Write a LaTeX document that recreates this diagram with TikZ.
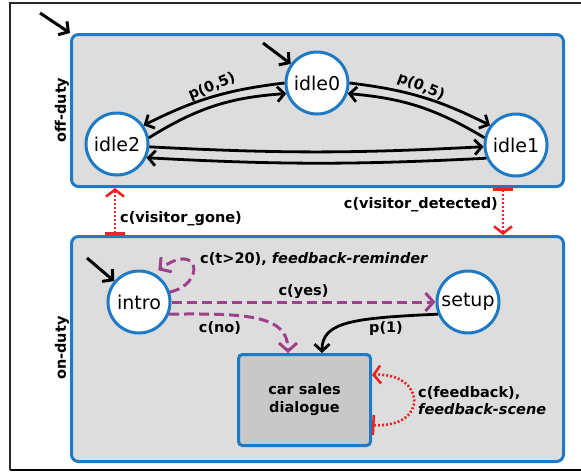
\documentclass[tikz,border=0pt]{standalone}
\usepackage{fontspec}
\setmainfont{DejaVu Sans}
\usetikzlibrary{arrows.meta}
\definecolor{stblue}{RGB}{30,122,196}
\definecolor{panelgrey}{RGB}{221,221,221}
\definecolor{dlggrey}{RGB}{200,200,200}
\definecolor{trpurple}{RGB}{158,64,140}
\definecolor{trred}{RGB}{230,38,38}
\definecolor{framegrey}{RGB}{40,40,40}
\definecolor{baseline}{RGB}{170,170,170}

\begin{document}
\begin{tikzpicture}[x=1pt,y=1pt,
  panel/.style={draw=stblue, line width=3pt, fill=panelgrey, rounded corners=7pt,
    inner sep=0pt, minimum width=492pt},
  stnode/.style={circle, draw=stblue, line width=3pt, fill=white, minimum size=62pt,
    inner sep=0pt, font=\fontsize{19}{21}\selectfont},
  subbox/.style={draw=stblue, line width=3pt, fill=dlggrey, rounded corners=4pt,
    minimum width=132pt, minimum height=91pt, inner sep=0pt, align=center,
    font=\fontsize{14.5}{18}\selectfont\bfseries},
  lbl/.style={font=\fontsize{14.5}{17}\selectfont\bfseries, inner sep=1pt},
  prob/.style={draw=black, line width=2.8pt, -{Straight Barb[length=7pt,width=15pt]}},
  cond/.style={draw=trpurple, line width=3pt, dash pattern=on 10pt off 5pt,
    -{Straight Barb[length=8pt,width=18pt]}},
  sig/.style={draw=trred, line width=2.6pt, dash pattern=on 2pt off 2pt,
    {Bar[width=20pt]}-{Straight Barb[length=7pt,width=18pt]}},
  startarr/.style={draw=black, line width=3pt, -{Straight Barb[length=7pt,width=16pt]}},
]
\useasboundingbox (0,0) rectangle (581,-472);

% outer frame
\draw[framegrey, line width=1.5pt] (10,-470) -- (10,-3) -- (581,-3);
\draw[baseline, line width=1.5pt] (10,-470) -- (581,-470);

% the two mode panels
\node[panel, minimum height=152pt] (off) at (317.5,-110.5) {};
\node[panel, minimum height=225pt] (on) at (317.5,-349) {};
\node[lbl, rotate=90] (offlbl) at (62,-110) {off-duty};
\node[lbl, rotate=90] (onlbl) at (62,-348) {on-duty};

% states
\node[stnode] (idle0) at (317,-83) {idle0};
\node[stnode] (idle2) at (117,-144) {idle2};
\node[stnode] (idle1) at (516,-145) {idle1};
\node[stnode] (intro) at (139,-302) {intro};
\node[stnode] (setup) at (468,-302) {setup};
\node[subbox] (dlg) at (304.5,-400) {car sales\\dialogue};

% initial markers
\coordinate (s0) at (40,-13);
\coordinate (s1) at (263,-43);
\coordinate (s2) at (87,-258);
\draw[startarr] (s0) -- (off.north west);
\draw[startarr] (s1) -- (idle0.144);
\draw[startarr] (s2) -- (intro.140);

% idle transitions
\draw[prob] (idle0.180) to[bend right=10] (idle2.35);
\node[lbl, rotate=22] (pl) at (212,-87) {p(0,5)};
\draw[prob] (idle2.11) to[bend left=14] (idle0.199);
\draw[prob] (idle0.0) to[bend left=10] (idle1.143);
\node[lbl, rotate=-21] (pr) at (421,-87) {p(0,5)};
\draw[prob] (idle1.167) to[bend right=13] (idle0.341);
\draw[prob] (idle2.-5) to[bend right=3] (idle1.183);
\draw[prob] (idle1.204) to[bend left=3] (idle2.335);

% switching between the panels
\coordinate (gx) at (115,0);
\coordinate (dx) at (503,0);
\draw[sig] (on.north -| gx) -- (off.south -| gx);
\node[lbl, anchor=west] (gonelbl) at (119,-219) {c(visitor\_gone)};
\draw[sig] (off.south -| dx) -- (on.north -| dx);
\node[lbl, anchor=east] (detlbl) at (499,-205) {c(visitor\_detected)};

% on-duty transitions
\draw[cond, shorten >=5pt] (intro.18) .. controls (206,-284) and (200,-240) .. (intro.62);
\node[lbl, anchor=west] (remlbl) at (199,-259) {c(t>20), \textit{feedback-reminder}};
\draw[cond] (intro.east) -- node[lbl, above=1pt] {c(yes)} (setup.west);
\draw[cond] (intro.-22) .. controls (250,-313) and ([xshift=-16.5pt]dlg.north |- 0,-316)
  .. ([xshift=-16.5pt]dlg.north);
\node[lbl] (nolbl) at (220,-328) {c(no)};
\draw[prob] (setup.202) .. controls (352,-318) and ([xshift=17.5pt]dlg.north |- 0,-322)
  .. ([xshift=17.5pt]dlg.north);
\node[lbl] (p1lbl) at (386,-329) {p(1)};
\draw[sig] ([yshift=-25pt]dlg.east) .. controls (430,-428) and (425,-372)
  .. ([yshift=25pt]dlg.east);
\node[lbl, anchor=west, align=left] (fblbl) at (417,-401)
  {c(feedback),\\\textit{feedback-scene}};
\end{tikzpicture}
\end{document}
